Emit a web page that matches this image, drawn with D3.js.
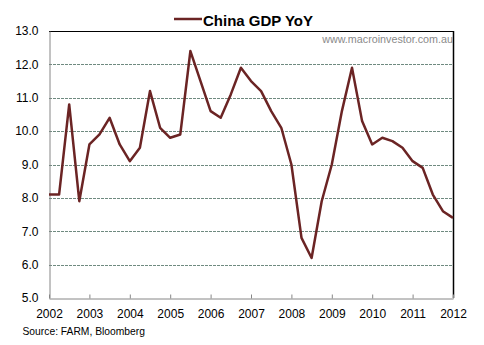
<!DOCTYPE html>
<html><head><meta charset="utf-8">
<script src="https://cdn.jsdelivr.net/npm/d3@7"></script>
<style>body{margin:0;background:#fff}svg{display:block}</style>
</head><body>
<svg id="c" width="484" height="345"></svg>
<script>
const title = "China GDP YoY";
const watermark = "www.macroinvestor.com.au";
const source = "Source: FARM, Bloomberg";
const yearTicks = [2002,2003,2004,2005,2006,2007,2008,2009,2010,2011,2012];
const yTicks = [5,6,7,8,9,10,11,12,13];
// quarterly points, 2002 Q1 .. 2012 Q1
const gdp = [8.1,8.1,10.8,7.9,9.6,9.9,10.4,9.6,9.1,9.5,11.2,10.1,9.8,9.9,12.4,11.5,10.6,10.4,11.1,11.9,11.5,11.2,10.6,10.1,9.0,6.8,6.2,7.9,9.0,10.6,11.9,10.3,9.6,9.8,9.7,9.5,9.1,8.9,8.1,7.6,7.4];
const dates = gdp.map((v,i)=>2002 + i*0.25);

const svg = d3.select("#c");
const L=49, R=453, T=31, B=298;
const x = d3.scaleLinear().domain([2002,2012]).range([L,R]);
const y = d3.scaleLinear().domain([5,13]).range([B,T]);
const numFont = "'Liberation Sans', Arial, sans-serif";

// gridlines
svg.append("g").selectAll("line").data(yTicks.filter(d=>d>5&&d<13)).join("line")
  .attr("x1",L).attr("x2",R).attr("y1",d=>Math.round(y(d))+0.5).attr("y2",d=>Math.round(y(d))+0.5)
  .attr("stroke","#6f8a80").attr("stroke-width",1).attr("stroke-dasharray","3,1");

// top and right border
svg.append("line").attr("x1",L).attr("x2",R+0.5).attr("y1",T+0.5).attr("y2",T+0.5).attr("stroke","#000");
svg.append("line").attr("x1",R+0.5).attr("x2",R+0.5).attr("y1",T).attr("y2",B).attr("stroke","#000").attr("stroke-width",1.5);

// y axis
const ya = d3.axisLeft(y).tickValues(yTicks).tickFormat(d3.format(".1f")).tickSize(0).tickPadding(11);
const gy = svg.append("g").attr("transform",`translate(${L+0.5},0)`).call(ya);
gy.select(".domain").attr("stroke","#868686");
gy.selectAll("text").attr("font-family",numFont).attr("font-size","12px").attr("fill","#000");

// x axis
const xa = d3.axisBottom(x).tickValues(yearTicks).tickFormat(d3.format("d")).tickSize(-4).tickSizeOuter(0).tickPadding(11);
const gx = svg.append("g").attr("transform",`translate(0,${B+0.5})`).call(xa);
gx.select(".domain").attr("stroke","#868686");
gx.selectAll(".tick line").attr("stroke","#868686");
gx.selectAll("text").attr("font-family",numFont).attr("font-size","12px").attr("fill","#000");

// line
const line = d3.line().x((d,i)=>x(dates[i])).y(d=>y(d));
svg.append("path").datum(gdp).attr("d",line).attr("fill","none")
  .attr("stroke","#6b2424").attr("stroke-width",2.5).attr("stroke-linejoin","round");

// watermark
svg.append("text").attr("x",R).attr("y",43).attr("text-anchor","end")
  .attr("font-family",numFont).attr("font-size","10.75px").attr("fill","#8a8a8a").text(watermark);

// legend/title
svg.append("line").attr("x1",174).attr("x2",202).attr("y1",19).attr("y2",19).attr("stroke","#6b2424").attr("stroke-width",2.5);
svg.append("text").attr("x",203).attr("y",25.5).attr("font-family",numFont).attr("font-weight","bold")
  .attr("font-size","15px").attr("fill","#000").text(title);

// source
svg.append("text").attr("x",22.5).attr("y",335).attr("font-family",numFont)
  .attr("font-size","10.3px").attr("fill","#000").text(source);
</script>
</body></html>
